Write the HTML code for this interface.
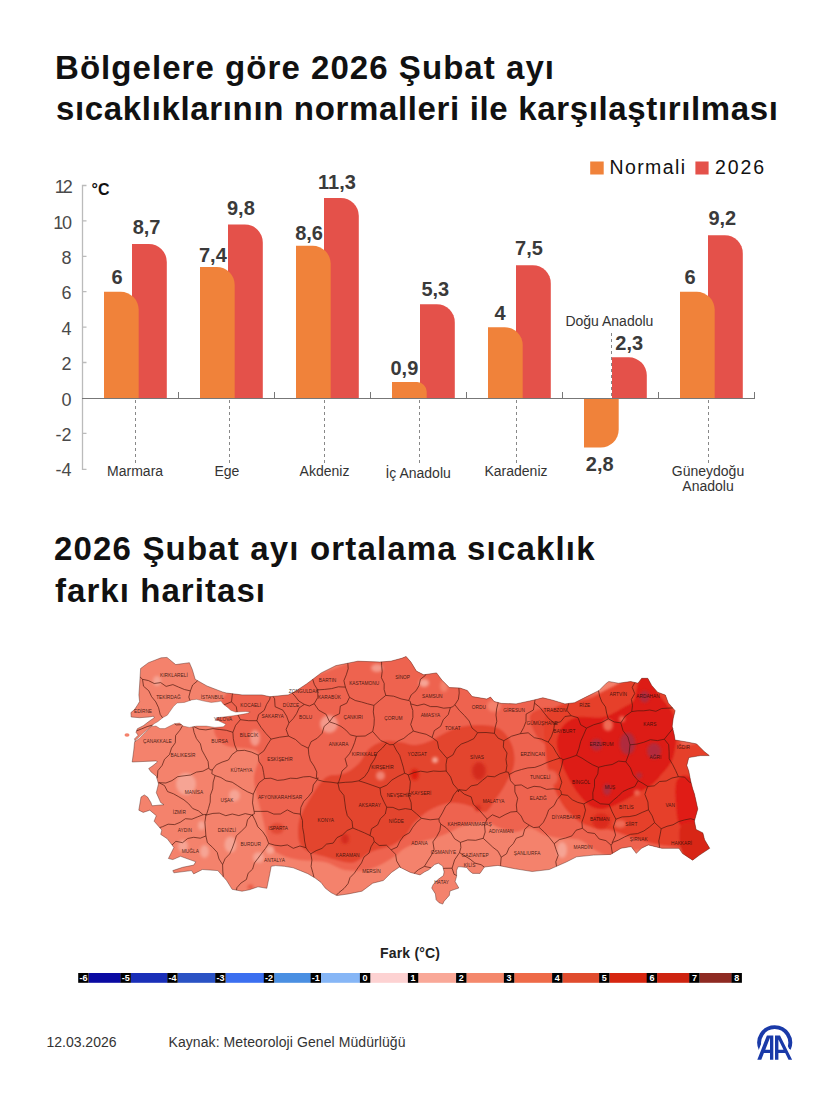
<!DOCTYPE html>
<html><head><meta charset="utf-8"><title>Bölgelere göre 2026 Şubat ayı sıcaklıkları</title>
<style>
html,body{margin:0;padding:0;background:#fff;}
body{width:820px;height:1094px;overflow:hidden;position:relative;font-family:"Liberation Sans",sans-serif;}
svg{position:absolute;left:0;top:0;display:block;}
svg text{font-family:"Liberation Sans",sans-serif;}
</style></head><body>
<svg width="820" height="1094" viewBox="0 0 820 1094">
<rect width="820" height="1094" fill="#fff"/>
<!-- Title 1 -->
<g font-weight="700" font-size="33" fill="#111">
<text x="55" y="79" textLength="499" lengthAdjust="spacing">Bölgelere göre 2026 Şubat ayı</text>
<text x="56" y="120" textLength="722" lengthAdjust="spacing">sıcaklıklarının normalleri ile karşılaştırılması</text>
</g>
<!-- Legend -->
<rect x="590.2" y="161.5" width="13.5" height="13" fill="#F0823A"/>
<text x="609.5" y="173.7" font-size="19.5" fill="#111" textLength="75.5" lengthAdjust="spacing">Normali</text>
<rect x="695.4" y="161.5" width="13.2" height="13" fill="#E4514A"/>
<text x="715" y="174.4" font-size="19.5" fill="#111" textLength="49" lengthAdjust="spacing">2026</text>
<!-- Axis -->
<g stroke="#bbb" stroke-width="1.3" fill="none">
<path d="M86.5,185.5H82.5V469.3H86.5"/>
<path d="M82.5,220.9h4M82.5,256.3h4M82.5,291.7h4M82.5,327.1h4M82.5,362.5h4M82.5,433.4h4"/>
</g>
<g font-size="18" fill="#4a4a4a" text-anchor="end"><text x="70.8" y="193.1" letter-spacing="-2">12</text><text x="70.8" y="228.5" letter-spacing="-1.2">10</text><text x="71.5" y="263.9">8</text><text x="71.5" y="299.3">6</text><text x="71.5" y="334.7">4</text><text x="71.5" y="370.1">2</text><text x="71.5" y="405.6">0</text><text x="71.5" y="441.0">-2</text><text x="71.5" y="476.4">-4</text></g>
<text x="91.5" y="195.2" font-size="16" font-weight="700" fill="#111">°C</text>
<!-- Bars -->
<path d="M132,398V244.0H148.8A18.0,18.0 0 0 1 166.8,262.0V398Z" fill="#E4514A"/>
<path d="M228,398V224.5H244.8A18.0,18.0 0 0 1 262.8,242.5V398Z" fill="#E4514A"/>
<path d="M324,398V198.0H340.8A18.0,18.0 0 0 1 358.8,216.0V398Z" fill="#E4514A"/>
<path d="M420,398V304.2H436.8A18.0,18.0 0 0 1 454.8,322.2V398Z" fill="#E4514A"/>
<path d="M516,398V265.2H532.8A18.0,18.0 0 0 1 550.8,283.2V398Z" fill="#E4514A"/>
<path d="M612,398V357.3H628.8A18.0,18.0 0 0 1 646.8,375.3V398Z" fill="#E4514A"/>
<path d="M708,398V235.2H724.8A18.0,18.0 0 0 1 742.8,253.2V398Z" fill="#E4514A"/>
<path d="M104,398V291.8H120.7A18.0,18.0 0 0 1 138.7,309.8V398Z" fill="#F0823A"/>
<path d="M200,398V267.0H216.7A18.0,18.0 0 0 1 234.7,285.0V398Z" fill="#F0823A"/>
<path d="M296,398V245.8H312.7A18.0,18.0 0 0 1 330.7,263.8V398Z" fill="#F0823A"/>
<path d="M392,398V382.1H417.1A9.6,9.6 0 0 1 426.7,391.6V398Z" fill="#F0823A"/>
<path d="M488,398V327.2H504.7A18.0,18.0 0 0 1 522.7,345.2V398Z" fill="#F0823A"/>
<path d="M584,398V447.6H600.7A18,18 0 0 0 618.7,429.6V398Z" fill="#F0823A"/>
<path d="M680,398V291.8H696.7A18.0,18.0 0 0 1 714.7,309.8V398Z" fill="#F0823A"/>
<!-- baseline & separators -->
<g stroke="#777" stroke-width="1" fill="none">
<path d="M82,398.5H755"/>
<path d="M178.5,392V398M274.5,392V398M370.5,392V398M466.5,392V398M562.5,392V398M658.5,392V398M754.5,392V398"/>
</g>
<!-- dashed category lines -->
<g stroke="#888" stroke-width="1" stroke-dasharray="3,3" fill="none">
<path d="M135.5,400V465M229.5,400V465M324.5,400V465M419.5,400V465M516.5,400V465M708.5,400V465M611.5,333V398"/>
</g>
<!-- value labels -->
<g font-size="20" font-weight="700" fill="#3a3a3a" text-anchor="middle">
<text x="117" y="284">6</text><text x="146.6" y="234">8,7</text>
<text x="212.9" y="262">7,4</text><text x="240.9" y="214.6">9,8</text>
<text x="309.1" y="239.6">8,6</text><text x="337" y="188.9">11,3</text>
<text x="404.4" y="375.2">0,9</text><text x="435.3" y="295.5">5,3</text>
<text x="500" y="319.7">4</text><text x="529" y="255">7,5</text>
<text x="599.7" y="470.7">2,8</text><text x="629.2" y="350.4">2,3</text>
<text x="690" y="283.8">6</text><text x="722.3" y="224.9">9,2</text>
</g>
<!-- category labels -->
<g font-size="14" fill="#333" text-anchor="middle">
<text x="135.1" y="475.8">Marmara</text>
<text x="226.9" y="475.8">Ege</text>
<text x="324.5" y="475.8">Akdeniz</text>
<text x="418.1" y="478.4">İç Anadolu</text>
<text x="516" y="475.6">Karadeniz</text>
<text x="609.4" y="326.3">Doğu Anadolu</text>
<text x="708" y="475.6">Güneydoğu</text>
<text x="708" y="490.7">Anadolu</text>
</g>
<!-- Title 2 -->
<g font-weight="700" font-size="33" fill="#111">
<text x="54" y="560.4" textLength="540.5" lengthAdjust="spacing">2026 Şubat ayı ortalama sıcaklık</text>
<text x="55" y="601.7" textLength="210" lengthAdjust="spacing">farkı haritası</text>
</g>
<!-- MAP -->
<g id="map"><defs><clipPath id="trclip"><path d="M140.6,668.5L148.4,662.7L161.1,657.8L167.0,657.4L175.7,664.6L189.4,662.7L192.3,669.5L195.2,679.3L207.0,686.0L222.6,692.0L226.5,693.0L242.0,694.9L261.6,694.9L270.0,696.7L288.3,694.9L295.6,691.2L306.6,683.9L321.2,672.9L335.9,665.6L357.8,661.2L379.8,662.0L390.7,661.2L401.7,658.3L406.1,656.5L410.9,662.0L416.4,671.1L423.7,674.8L436.5,672.9L442.0,680.2L449.3,687.6L460.0,688.0L467.3,690.5L472.2,696.6L486.8,699.0L490.5,697.1L494.1,701.5L501.5,703.4L516.1,703.9L533.2,700.2L542.9,697.8L552.7,700.2L564.9,703.9L574.6,702.7L586.8,696.6L599.0,690.5L606.3,683.2L608.8,681.5L618.5,683.2L630.7,681.5L638.0,683.2L641.7,678.3L647.8,678.3L651.7,685.4L657.6,692.2L665.4,695.1L668.3,702.9L675.1,710.7L673.2,718.5L672.2,726.3L674.1,734.1L675.1,740.0L686.8,742.0L696.6,743.9L704.4,751.7L709.3,755.6L700.5,755.6L688.8,757.6L686.8,765.4L688.8,771.2L690.7,781.0L692.7,788.8L694.4,793.7L697.8,809.0L694.4,821.0L696.1,829.5L702.9,832.9L704.6,839.7L709.7,848.3L699.5,855.1L692.6,860.2L682.4,853.4L679.0,848.3L661.9,848.3L648.3,844.9L641.4,848.3L636.3,853.4L631.2,846.6L621.0,848.3L610.7,854.4L593.6,855.1L576.6,856.8L566.3,862.0L549.3,869.5L532.2,871.5L515.1,868.8L498.0,865.4L484.4,867.0L480.0,873.4L472.7,873.4L469.7,871.2L466.8,867.6L461.0,866.8L458.0,866.8L456.6,870.5L456.6,876.3L455.1,881.5L458.8,888.0L454.4,889.5L450.0,891.0L449.3,895.4L444.1,901.2L442.7,904.1L439.0,902.7L436.1,899.7L435.4,893.9L431.7,888.0L433.2,884.4L438.3,879.3L443.4,875.6L444.1,871.9L442.7,866.1L438.3,863.2L434.6,864.6L428.8,869.8L424.4,872.0L420.0,874.9L410.3,872.4L399.5,867.0L391.5,872.4L383.4,880.5L372.7,883.2L362.0,891.2L348.5,893.9L337.0,895.6L331.2,892.7L325.4,888.3L321.0,882.4L315.1,878.0L307.8,873.7L300.5,870.7L293.2,867.8L284.4,866.3L275.6,865.6L271.2,866.3L269.8,873.7L268.3,881.0L266.8,888.3L258.0,886.8L249.3,889.8L242.0,891.2L232.1,889.3L226.6,880.5L217.8,870.6L202.4,869.5L193.7,873.9L191.5,870.6L173.9,872.8L172.8,870.6L182.7,867.3L193.7,865.1L195.8,861.8L180.5,856.3L172.8,859.6L168.4,858.5L173.9,847.5L167.3,838.8L160.7,834.4L161.8,830.0L154.1,821.2L156.3,815.7L149.8,810.2L143.2,812.4L138.8,810.2L141.0,797.1L144.3,794.9L147.6,797.1L150.9,802.6L152.0,805.8L164.0,804.7L160.7,802.6L156.3,792.7L158.5,783.9L156.3,776.2L150.9,771.8L148.7,768.5L152.0,766.3L157.4,762.0L156.3,760.9L132.2,762.0L133.8,750.0L134.5,742.5L135.3,741.0L134.5,738.9L138.2,735.2L136.0,732.3L137.4,728.7L143.3,725.7L149.1,721.3L154.3,717.7L153.5,716.2L149.1,717.0L139.6,717.7L131.2,717.0L130.9,712.6L134.5,709.6L137.4,705.2L139.6,701.6L138.9,695.0L139.6,685.0Z"/></clipPath>
<filter id="bl" x="-20%" y="-20%" width="140%" height="140%"><feGaussianBlur stdDeviation="1.2"/></filter>
<filter id="bl2" x="-50%" y="-50%" width="200%" height="200%"><feGaussianBlur stdDeviation="1.5"/></filter></defs>
<g clip-path="url(#trclip)">
<rect x="120" y="640" width="600" height="280" fill="#F4826C"/>
<g filter="url(#bl)">
<path d="M232.0,690.0C246.3,682.5 272.0,686.7 300.0,680.0C328.0,673.3 373.3,650.0 400.0,650.0C426.7,650.0 433.3,672.5 460.0,680.0C486.7,687.5 521.7,693.3 560.0,695.0C598.3,696.7 664.7,679.2 690.0,690.0C715.3,700.8 708.3,731.3 712.0,760.0C715.7,788.7 715.7,846.7 712.0,862.0C708.3,877.3 698.7,854.0 690.0,852.0C681.3,850.0 668.3,850.3 660.0,850.0C651.7,849.7 645.8,849.7 640.0,850.0C634.2,850.3 630.0,851.0 625.0,852.0C620.0,853.0 615.0,856.3 610.0,856.0C605.0,855.7 600.0,852.7 595.0,850.0C590.0,847.3 585.8,842.0 580.0,840.0C574.2,838.0 565.8,838.8 560.0,838.0C554.2,837.2 550.0,836.7 545.0,835.0C540.0,833.3 535.0,828.5 530.0,828.0C525.0,827.5 520.0,832.0 515.0,832.0C510.0,832.0 505.0,829.7 500.0,828.0C495.0,826.3 490.8,822.5 485.0,822.0C479.2,821.5 470.8,823.3 465.0,825.0C459.2,826.7 455.0,829.8 450.0,832.0C445.0,834.2 440.0,836.3 435.0,838.0C430.0,839.7 425.0,840.3 420.0,842.0C415.0,843.7 409.2,845.7 405.0,848.0C400.8,850.3 399.2,853.2 395.0,856.0C390.8,858.8 385.0,862.7 380.0,865.0C375.0,867.3 370.8,869.2 365.0,870.0C359.2,870.8 351.7,871.3 345.0,870.0C338.3,868.7 332.5,863.7 325.0,862.0C317.5,860.3 307.2,861.2 300.0,860.0C292.8,858.8 287.0,857.5 282.0,855.0C277.0,852.5 273.3,851.7 270.0,845.0C266.7,838.3 264.7,825.8 262.0,815.0C259.3,804.2 254.7,790.5 254.0,780.0C253.3,769.5 262.8,757.8 258.0,752.0C253.2,746.2 232.3,749.5 225.0,745.0C217.7,740.5 212.8,734.2 214.0,725.0C215.2,715.8 217.7,697.5 232.0,690.0Z" fill="#EE6450"/>
<path d="M324.4,778.5C329.9,773.6 335.8,775.9 340.0,774.6C344.2,773.3 346.5,772.8 349.8,770.7C353.1,768.6 356.6,765.8 360.0,762.0C363.4,758.2 365.8,751.5 370.0,748.0C374.2,744.5 380.0,742.0 385.0,741.0C390.0,740.0 395.0,741.3 400.0,742.0C405.0,742.7 410.0,745.2 415.0,745.0C420.0,744.8 425.0,743.0 430.0,741.0C435.0,739.0 440.0,735.3 445.0,733.0C450.0,730.7 454.2,728.3 460.0,727.0C465.8,725.7 473.3,724.7 480.0,725.0C486.7,725.3 494.7,725.7 500.0,729.0C505.3,732.3 509.7,739.0 512.0,745.0C514.3,751.0 515.2,758.3 514.0,765.0C512.8,771.7 508.2,779.2 505.0,785.0C501.8,790.8 498.3,795.5 495.0,800.0C491.7,804.5 489.2,811.0 485.0,812.0C480.8,813.0 475.8,807.5 470.0,806.0C464.2,804.5 456.7,802.3 450.0,803.0C443.3,803.7 435.8,806.8 430.0,810.0C424.2,813.2 418.3,818.8 415.0,822.0C411.7,825.2 411.8,826.5 410.0,829.0C408.2,831.5 407.3,834.4 404.4,837.0C401.5,839.6 396.6,842.9 392.7,844.9C388.8,846.9 384.9,847.5 381.0,848.8C377.1,850.1 373.9,850.4 369.3,852.7C364.8,855.0 358.9,861.1 353.7,862.4C348.5,863.7 342.9,861.5 338.0,860.5C333.1,859.5 329.6,858.2 324.4,856.6C319.2,855.0 311.0,853.3 306.8,850.7C302.6,848.1 300.3,845.9 299.0,841.0C297.7,836.1 297.7,827.7 299.0,821.5C300.3,815.3 302.6,811.1 306.8,803.9C311.0,796.7 318.9,783.4 324.4,778.5Z" fill="#E3442F"/>
<path d="M530.0,716.0C531.2,711.0 540.0,708.7 545.0,708.0C550.0,707.3 556.7,708.3 560.0,712.0C563.3,715.7 566.3,724.5 565.0,730.0C563.7,735.5 556.5,743.7 552.0,745.0C547.5,746.3 541.7,742.8 538.0,738.0C534.3,733.2 528.8,721.0 530.0,716.0Z" fill="#E64A36"/>
<path d="M545.0,718.0C547.5,711.3 552.5,708.3 560.0,705.0C567.5,701.7 581.7,700.8 590.0,698.0C598.3,695.2 601.7,691.7 610.0,688.0C618.3,684.3 630.8,675.7 640.0,676.0C649.2,676.3 658.7,682.7 665.0,690.0C671.3,697.3 675.2,710.8 678.0,720.0C680.8,729.2 676.3,739.7 682.0,745.0C687.7,750.3 707.0,732.5 712.0,752.0C717.0,771.5 715.7,844.8 712.0,862.0C708.3,879.2 695.3,857.3 690.0,855.0C684.7,852.7 685.0,849.7 680.0,848.0C675.0,846.3 666.7,846.3 660.0,845.0C653.3,843.7 645.8,841.7 640.0,840.0C634.2,838.3 630.0,836.7 625.0,835.0C620.0,833.3 615.0,831.2 610.0,830.0C605.0,828.8 600.0,829.3 595.0,828.0C590.0,826.7 585.0,825.3 580.0,822.0C575.0,818.7 569.2,813.3 565.0,808.0C560.8,802.7 557.8,796.3 555.0,790.0C552.2,783.7 549.7,777.5 548.0,770.0C546.3,762.5 545.5,753.7 545.0,745.0C544.5,736.3 542.5,724.7 545.0,718.0Z" fill="#E6402C"/>
<path d="M557.0,740.4C557.7,735.4 559.9,729.4 563.5,725.5C567.1,721.6 571.6,718.4 578.4,717.0C585.1,715.6 596.2,718.8 604.0,717.0C611.8,715.2 620.4,709.1 625.4,706.3C630.4,703.4 631.8,703.8 633.9,699.9C636.0,696.0 636.1,686.8 638.2,682.8C640.3,678.8 643.2,673.9 646.7,676.0C650.2,678.1 655.2,689.5 659.5,695.6C663.8,701.7 669.4,706.3 672.3,712.7C675.1,719.1 676.6,726.2 676.6,734.0C676.6,741.8 675.1,752.5 672.3,759.6C669.4,766.7 663.0,772.4 659.5,776.7C656.0,781.0 654.9,782.4 651.0,785.2C647.1,788.1 641.0,790.9 636.0,793.8C631.0,796.6 626.4,799.8 621.1,802.3C615.8,804.8 609.0,808.0 604.0,808.7C599.0,809.4 595.5,809.1 591.2,806.6C586.9,804.1 582.7,799.5 578.4,793.8C574.1,788.1 568.8,778.8 565.6,772.4C562.4,766.0 560.6,760.7 559.2,755.4C557.8,750.1 556.3,745.4 557.0,740.4Z" fill="#DD1C12"/>
<path d="M676.6,781.0C678.6,776.2 684.1,774.5 688.0,776.0C691.9,777.5 698.2,783.5 700.0,790.0C701.8,796.5 699.8,808.7 699.0,815.0C698.2,821.3 698.2,826.3 695.0,828.0C691.8,829.7 683.2,828.8 680.0,825.0C676.8,821.2 676.6,812.3 676.0,805.0C675.4,797.7 674.6,785.8 676.6,781.0Z" fill="#E01F12"/>
<path d="M681.0,826.0C684.2,822.0 694.8,822.3 700.0,826.0C705.2,829.7 712.0,842.3 712.0,848.0C712.0,853.7 703.7,857.7 700.0,860.0C696.3,862.3 693.2,863.7 690.0,862.0C686.8,860.3 682.5,856.0 681.0,850.0C679.5,844.0 677.8,830.0 681.0,826.0Z" fill="#D82818"/>
</g><g filter="url(#bl2)">
<ellipse cx="596.5" cy="744.7" rx="6" ry="6" fill="#B32A3C"/>
<ellipse cx="627.5" cy="743.6" rx="8" ry="11" fill="#B02A3C"/>
<ellipse cx="654" cy="751" rx="7" ry="8" fill="#B32A3C"/>
<ellipse cx="607" cy="789.5" rx="4" ry="6" fill="#B32A3C"/>
<ellipse cx="644.6" cy="696.7" rx="5" ry="6" fill="#B32A3C"/>
<ellipse cx="639" cy="775.6" rx="3" ry="3" fill="#B32A3C"/>
<ellipse cx="479" cy="771" rx="7" ry="9" fill="#D42A1E"/>
<ellipse cx="414.6" cy="774.5" rx="4" ry="5.5" fill="#DE1E10"/>
<ellipse cx="380.5" cy="775.7" rx="4.5" ry="4.5" fill="#F08272"/>
<ellipse cx="345" cy="839" rx="4" ry="5" fill="#D42A1E"/>
<ellipse cx="478" cy="808" rx="3" ry="3" fill="#D42A1E"/>
<ellipse cx="277" cy="828.5" rx="7" ry="5.5" fill="#E24A35"/>
<ellipse cx="186" cy="784" rx="10" ry="11" fill="#F6A494"/>
<ellipse cx="234.5" cy="795.5" rx="5.5" ry="6" fill="#F6A494"/>
<ellipse cx="201.5" cy="825.5" rx="3.5" ry="4.5" fill="#F6A494"/>
<ellipse cx="230.5" cy="844.5" rx="6" ry="8" fill="#F6A494"/>
<ellipse cx="204.5" cy="851.5" rx="4.5" ry="6.5" fill="#F6A494"/>
<ellipse cx="258.5" cy="857.5" rx="5.5" ry="5.5" fill="#F6A494"/>
<ellipse cx="250.5" cy="887" rx="3" ry="2.5" fill="#E85A45"/>
<ellipse cx="329" cy="724" rx="9" ry="9" fill="#F4998A"/>
<ellipse cx="377" cy="668" rx="6" ry="4" fill="#F4998A"/>
<ellipse cx="255" cy="738" rx="5" ry="8" fill="#F4998A"/>
<ellipse cx="562" cy="850" rx="5" ry="8" fill="#F6A494"/>
<ellipse cx="157" cy="681" rx="4" ry="5" fill="#F6A494"/>
<ellipse cx="183" cy="846" rx="5" ry="6" fill="#F6A494"/>
<ellipse cx="424" cy="683" rx="5" ry="4" fill="#F6A494"/>
<ellipse cx="608" cy="725" rx="5" ry="6" fill="#EE6A55"/>
<ellipse cx="622" cy="719" rx="3" ry="3" fill="#EE6A55"/>
<ellipse cx="637" cy="792.7" rx="3" ry="3" fill="#EE6A55"/>
<ellipse cx="620" cy="824" rx="6" ry="4" fill="#EE6A55"/>
<ellipse cx="601" cy="821" rx="9" ry="8" fill="#DC2C1C"/>
<ellipse cx="550" cy="778" rx="8" ry="8" fill="#EC6450"/>
<ellipse cx="270" cy="850" rx="4" ry="4" fill="#F6A494"/>
<ellipse cx="444" cy="686" rx="4" ry="6" fill="#F4826C"/>
<ellipse cx="494" cy="706" rx="7" ry="6" fill="#F4826C"/>
<ellipse cx="435" cy="760" rx="3" ry="3" fill="#F6A494"/>
</g></g>
<path d="M135.0,741.6L139.6,738.2L145.5,732.3L151.3,726.5L156.0,726.0L160.0,728.6L164.9,728.6L169.8,726.1L174.6,723.7L179.5,723.1L183.2,726.1L189.3,727.4L196.6,726.1L206.3,726.1L214.9,727.4L223.4,726.8L225.9,724.3L222.2,722.5L218.5,720.7L215.5,720.0L217.3,717.6L223.4,717.0L233.2,715.8L240.5,714.6L247.8,713.3L250.2,712.1L245.4,711.5L235.6,712.1L230.7,710.3L228.3,707.9L223.4,704.2L221.0,701.1L217.3,701.8L211.2,702.4L203.9,701.1L196.6,699.3L191.7,699.9L184.4,702.4L177.1,703.0L173.4,706.6L167.3,715.2L163.0,717.5L158.0,721.5L154.5,723.5L150.0,727.2L144.0,732.6L138.5,737.6L134.8,740.8Z" fill="#fff"/>
<ellipse cx="127" cy="735" rx="2.5" ry="1.8" fill="#F4826C"/>
<path d="M136.6,730.9L141.6,728.9L147.1,726.6L152.5,725.1M156.9,778.1L157.3,777.8L157.9,770.6L162.1,765.4L164.5,759.3L169.5,754.5L171.5,748.1L175.3,742.8L175.6,735.5L179.8,730.3L182.6,725.6M174.7,723.7L176.2,724.9L181.5,724.7M140.1,677.0L142.5,679.3M142.5,679.3L143.5,686.2L148.8,690.8L151.6,696.7L155.8,701.9L158.6,707.8L160.2,714.4L162.6,717.9M159.7,827.6L162.5,826.7L168.1,824.2L174.6,824.6L180.2,822.3L185.4,818.7L191.9,819.2L197.5,816.9L203.1,814.7M158.2,782.9L159.1,782.7M159.1,782.7L164.5,785.6L167.6,791.6L173.5,793.8L178.8,796.8L184.0,799.9L188.7,803.8L192.7,808.5L198.5,810.9L203.1,814.7M172.0,845.0L175.9,841.3L182.5,842.7L187.7,838.5L193.7,837.3L200.3,838.2L206.0,835.9M205.9,835.9L205.4,829.0L204.9,822.2L205.9,815.4M203.1,814.7L204.7,814.5L205.9,815.4M634.9,682.5L632.2,687.3L634.7,693.6L631.4,699.4L632.5,705.6L631.7,711.6M672.7,707.9L667.7,708.2L661.7,708.5L655.9,711.3L649.7,710.0L643.7,710.8L637.7,710.8L631.7,711.6M672.8,728.6L672.3,729.3L668.3,734.2L664.3,739.2M620.8,722.9L623.0,730.6L627.9,737.1L630.0,744.8M631.7,711.6L625.2,716.2L620.8,722.9M630.0,744.8L636.9,744.1L643.7,742.3L650.3,739.7L657.5,740.6L664.3,739.2M691.0,782.2L689.7,782.4L684.6,777.1L678.4,776.7M678.4,776.7L675.7,770.6L672.7,764.6L669.2,758.8L669.1,751.7L668.7,744.7L664.3,739.2M400.5,867.5L399.7,866.2L396.6,860.9L395.6,854.3L391.1,849.8M336.3,895.3L338.9,892.6L344.0,888.5L348.0,883.7L350.0,877.6L354.4,873.1L357.9,867.9L361.5,862.9L364.0,857.0L369.1,853.0L371.0,846.8L374.2,841.5M391.1,849.8L386.4,845.2L379.2,845.5L374.2,841.5M206.4,815.0L205.3,814.3L205.9,815.4M206.4,815.0L212.9,813.4L219.3,813.1L225.8,815.7L232.3,814.0L238.8,815.6L245.2,813.6L251.7,815.0M205.9,835.9L207.4,842.7L212.6,847.4L217.2,852.4L219.0,859.0L222.6,864.6M251.7,815.0L247.5,819.9L246.1,826.5L241.4,831.2L236.4,835.7L234.5,842.0L232.3,848.1L229.7,853.9L225.1,858.7L222.6,864.6M223.3,876.8L222.8,871.1L222.6,864.6M498.0,702.5L498.1,703.1L496.6,709.0L496.0,715.1L496.8,721.3L495.2,727.3L494.4,733.3M477.6,732.7L472.0,728.0L469.2,721.0L464.5,715.6L459.4,710.5L454.9,704.8M494.4,733.3L486.0,732.5L477.6,732.7M458.9,688.0L459.2,693.1L458.4,699.3L454.9,704.8M477.6,732.7L473.9,738.6L467.8,741.6L461.2,744.1L456.2,748.5L452.9,755.0L447.0,758.3M432.1,737.5L437.4,741.5L438.7,748.5L442.7,753.4L447.0,758.3M432.1,737.5L434.3,730.6L440.6,726.3L443.3,719.7L448.3,714.5L450.4,707.6M450.4,707.6L452.9,706.6L454.9,704.8M432.1,737.5L426.2,734.3L419.8,732.8L413.4,731.1M450.4,707.6L443.7,708.2L437.1,706.6L430.5,706.6L424.0,704.0L417.1,705.7L410.6,703.8M413.4,731.1L410.7,724.5L412.9,717.4L412.8,710.5L410.6,703.8M425.8,674.5L425.4,675.4L420.4,679.3L419.0,685.6L416.0,690.8L411.2,694.9L408.7,700.5M408.7,700.5L410.5,701.7L410.6,703.8M661.2,828.7L660.1,834.8L658.8,840.9L659.5,847.1L659.4,847.7M694.7,819.9L690.7,818.7L684.6,819.9L678.6,821.6L673.0,824.8L667.0,826.3L661.2,828.7M678.4,776.7L672.0,778.0L666.2,781.0L659.6,781.5L654.2,785.9L647.6,786.4M630.0,744.8L629.0,753.5L625.9,761.8M647.6,786.4L643.0,783.4L638.1,780.7M625.9,761.8L630.4,767.8L633.2,774.9L638.1,780.7M413.4,731.1L408.4,734.5L403.8,738.4L398.2,740.9L393.4,744.5M393.4,744.5L396.2,750.0L399.7,755.3L401.5,761.2L403.3,767.2L404.6,773.3M446.2,771.0L446.0,764.6L447.0,758.3M446.2,771.0L439.9,771.4L433.4,771.0L427.1,772.2L420.7,771.2L414.4,772.5L408.2,774.9M404.6,773.3L406.5,773.9L408.2,774.9M159.1,782.7L165.9,783.0L172.0,780.6L177.6,776.7L184.1,775.8L190.6,775.0L196.5,772.1L202.9,771.2L208.8,768.1M206.4,815.0L208.4,808.6L210.2,802.1L210.4,795.2L212.7,788.9L213.2,782.1L215.1,775.6M208.8,768.1L210.1,769.8L212.3,769.9M215.1,775.6L211.8,773.7L212.3,769.9M208.8,768.1L208.1,761.5L205.0,755.8L201.9,750.1L200.4,743.8L196.4,738.5L194.1,732.5L192.9,726.8M142.5,679.3L148.5,680.6L154.2,683.5L160.7,682.6L166.1,686.4L172.9,684.6L178.6,687.1L184.4,689.5L190.4,690.9M190.4,690.9L188.8,697.1L190.0,700.5M554.6,723.2L553.7,729.9L551.5,736.2L548.2,742.1M534.5,703.1L540.1,707.6L544.4,713.3L548.9,718.8L554.6,723.2M534.5,703.1L533.4,710.0L526.1,714.1L526.0,721.5L523.6,727.7L520.3,733.7M548.2,742.1L541.5,739.1L534.3,737.7L528.2,732.8L520.3,733.7M494.4,733.3L498.2,738.2L503.8,740.7M535.0,699.8L534.5,703.1M503.8,740.7L511.6,736.2L520.3,733.7M568.6,703.4L568.6,703.8L566.8,710.2L571.1,715.7M598.5,690.7L599.6,696.1L601.8,701.8L605.5,706.9L606.6,713.0L608.3,718.8M571.1,715.7L578.0,717.7L580.7,724.8L586.5,728.1M608.3,718.8L601.3,722.6L593.6,724.8L586.5,728.1M554.6,723.2L560.6,721.8L564.9,716.5L571.1,715.7M620.8,722.9L614.2,721.9L608.3,718.8M563.0,759.8L561.6,758.5L559.8,758.1M563.0,759.8L569.8,757.7L576.5,755.3M559.8,758.1L556.2,752.5L553.0,746.8L548.2,742.1M576.5,755.3L578.9,748.5L580.7,741.4L583.6,734.8L586.5,728.1M625.9,761.8L618.6,761.1L612.2,764.5L605.2,765.6L598.5,767.3M576.5,755.3L582.1,758.2L587.3,761.6L592.7,764.8L598.5,767.3M559.8,758.1L553.4,760.2L547.2,762.4L541.1,765.2L534.8,767.4L527.9,767.9L521.5,769.5L515.1,771.4L509.1,774.5M559.5,789.4L553.1,788.8L546.6,789.4L540.4,786.9L534.0,786.3L527.4,788.5L521.3,784.9L514.8,785.4M563.0,759.8L561.4,767.1L559.1,774.4L561.8,782.2L559.5,789.4M514.8,785.4L510.5,780.7L509.1,774.5M503.8,740.7L503.3,747.0L507.0,753.0L506.0,759.4L506.9,765.6L505.9,771.9M505.9,771.9L508.3,772.2L509.1,774.5M638.1,780.7L634.8,786.6L628.6,788.9L622.8,791.6L618.4,796.1L613.6,800.0L609.1,804.4M598.5,767.3L597.8,773.8L594.5,779.8L594.5,786.4L592.8,792.7L593.0,799.3M609.1,804.4L600.4,803.8L593.0,799.3M411.5,809.6L405.3,808.6L398.9,809.9L392.9,807.4L386.7,807.2M411.5,809.6L411.1,802.6L408.7,795.8L409.8,788.7L410.4,781.7L408.2,774.9M404.6,773.3L398.1,776.4L391.9,780.0L386.7,785.2L380.0,788.0M386.7,807.2L383.6,801.1L380.8,794.8L380.0,788.0M421.4,818.3L416.5,813.8L411.5,809.6M374.2,841.5L373.4,837.6L370.0,835.5M421.4,818.3L416.6,822.4L412.7,827.3L409.4,832.8L403.7,835.9L400.0,841.1L397.2,847.1L391.1,849.8M386.7,807.2L385.3,814.0L380.4,818.7L377.7,824.8L371.5,828.8L370.0,835.5M314.0,877.3L312.8,872.7L311.1,866.5L311.9,860.1L310.8,853.8M310.8,853.8L316.1,850.7L322.0,848.4L326.5,844.1L333.2,843.1L337.0,837.6L342.6,834.9L347.1,830.5L352.8,828.0M370.0,835.5L364.3,832.8L358.6,830.4L352.8,828.0M252.3,814.7L255.3,820.6L257.8,826.8L262.7,831.6L266.3,837.1L268.7,843.4M252.3,814.7L254.5,813.7L254.1,811.4M254.1,811.4L260.7,811.4L267.3,811.3L273.8,814.1L280.4,814.0L287.3,809.9L293.7,813.2L300.3,814.1M268.7,843.4L274.8,845.2L281.0,845.9L287.4,844.9L293.3,848.3L299.9,846.0L306.0,847.7M306.0,847.7L304.6,841.0L303.9,834.2L302.6,827.5L302.5,820.6L300.3,814.1M251.7,815.0L252.6,816.0L252.3,814.7M236.5,890.1L236.9,887.7L240.9,883.1L246.4,879.5L248.1,873.3L252.6,869.1L254.4,863.0L258.1,858.2L261.7,853.3L265.4,848.5L268.7,843.4M253.3,794.2L247.7,791.9L242.4,788.9L237.3,785.5L232.2,782.2L226.1,780.8L220.9,777.5L215.1,775.6M253.3,794.2L252.5,802.9L254.1,811.4M253.3,794.2L255.9,788.3L259.1,782.7L264.5,778.6M316.3,778.6L309.8,776.5L303.3,776.9L296.8,778.5L290.4,778.2L283.9,779.8L277.4,780.4L270.9,778.2L264.5,778.6M316.3,778.6L318.2,777.9L317.2,779.7M317.2,779.7L313.3,784.9L312.3,791.5L308.4,796.7L303.7,801.5L300.9,807.3L300.3,814.1M310.8,853.8L308.2,851.0L306.0,847.7M352.8,828.0L352.0,821.1L347.3,815.6L345.7,809.0L344.8,802.2L343.9,795.4L339.4,789.8L337.9,783.2M317.2,779.7L324.0,781.6L331.0,782.2L337.9,783.2M212.3,769.9L216.3,764.8L222.1,762.1L228.4,760.0L232.1,754.5L237.1,750.8M264.5,778.6L263.6,772.6L262.4,766.6L258.9,761.3L258.2,755.1M258.2,755.1L251.5,752.1L244.5,750.3L237.1,750.8M193.8,726.6L199.2,729.2L205.9,729.9L213.0,728.6L219.7,729.5L226.4,730.3L232.9,732.3M237.1,750.8L234.6,744.8L233.3,738.7L232.9,732.3M224.1,704.7L225.4,704.3L231.5,701.8M232.9,732.3L235.6,725.3L240.4,719.7M231.5,701.8L236.3,706.8L237.1,712.0M238.0,715.0L240.4,719.7M385.8,695.4L379.8,700.3L373.9,705.4M373.9,705.4L367.6,703.8L361.5,702.0L355.2,700.5L349.5,697.3M349.5,697.3L347.3,692.2L345.4,687.1M385.8,695.4L384.1,689.5L384.2,683.4L381.4,677.7L382.2,671.4L381.6,665.3L381.6,661.9M345.4,687.1L343.9,680.7L346.3,674.8L348.2,668.7L347.8,663.2M408.7,700.5L401.1,698.9L393.7,696.2L385.8,695.4M612.3,842.5L615.6,835.1L613.4,826.8L615.9,819.2M612.3,842.5L618.6,840.1L624.4,837.0L630.5,834.3L637.6,833.6L643.8,831.0L649.3,827.1L654.6,822.6M615.9,819.2L622.2,816.9L629.2,816.6L635.9,815.3L642.2,812.4L648.5,809.8M654.6,822.6L652.2,815.9L648.5,809.8M611.0,845.1L612.2,844.1L612.3,842.5M612.4,853.4L612.0,851.1L611.0,845.1M661.2,828.7L657.9,825.7L654.6,822.6M609.1,804.4L612.2,811.9L615.9,819.2M647.6,786.4L644.9,794.3L647.9,802.0L648.5,809.8M561.4,794.5L557.1,799.6L554.1,805.5L548.7,809.8L546.4,816.3L543.4,822.3L538.8,827.1M561.4,794.5L567.6,795.4L572.3,799.8L577.8,802.4L583.8,803.9M583.8,803.9L585.5,810.1L584.0,816.1L581.9,822.1L582.4,828.3M582.4,828.3L576.1,830.2L571.9,835.9L565.7,838.0L559.3,839.6L554.2,843.7M538.8,827.1L544.4,832.2L549.5,837.8L554.2,843.7M559.5,789.4L561.1,791.7L561.4,794.5M529.2,825.2L523.8,821.7L521.1,816.0L517.0,811.5M514.8,785.4L514.9,791.9L517.7,798.3L516.3,805.0L517.0,811.5M529.2,825.2L533.7,827.6L538.8,827.1M593.0,799.3L588.3,801.4L583.8,803.9M611.0,845.1L605.9,840.6L599.2,839.0L594.7,833.5L587.6,832.5L582.4,828.3M556.5,866.3L555.8,861.8L558.2,855.4L556.1,849.6L554.2,843.7M358.8,780.8L352.0,782.0L345.2,782.3L338.4,783.0M358.8,780.8L364.6,776.7L368.4,771.2L370.9,764.7L374.6,759.1L377.2,752.7L382.3,748.1L386.7,743.0M338.4,783.0L340.4,777.0L342.0,771.0L347.2,766.3L345.1,758.8L349.5,753.7L352.4,748.2L354.7,742.3L356.4,736.3M356.4,736.3L365.2,736.0L372.7,731.5M386.7,743.0L380.8,740.6L376.7,736.1L372.7,731.5M380.0,788.0L372.9,785.5L365.9,783.0L358.8,780.8M337.9,783.2L337.9,782.6L338.4,783.0M393.4,744.5L389.8,744.8L386.7,743.0M329.5,721.9L324.2,726.3L322.1,733.3L317.3,738.2L311.1,741.7L308.3,748.2M316.3,778.6L316.8,772.0L314.1,766.2L310.4,760.6L308.8,754.5L308.3,748.2M329.5,721.9L335.4,723.8L341.0,726.4L345.9,730.1L350.3,734.9L356.4,736.3M373.9,705.4L373.3,711.9L374.3,718.5L374.0,725.0L372.7,731.5M349.5,697.3L346.7,703.2L340.3,706.1L339.5,713.7L333.2,716.7L329.5,721.8M270.2,696.7L269.8,699.2L266.5,704.6L264.2,710.4L258.6,714.6L256.9,720.7M273.1,696.4L274.6,698.8L275.1,706.7L282.9,710.2L286.6,716.1L289.0,722.9M256.9,720.7L261.0,727.3L265.8,733.4L271.1,739.1M271.1,739.1L279.7,737.2L288.5,736.1M288.5,736.1L286.1,729.4L289.0,722.9M258.2,755.1L263.9,750.9L267.3,744.9L271.1,739.1M240.4,719.7L248.6,720.7L256.9,720.7M308.3,748.2L301.3,744.8L295.5,739.5L288.5,736.1M317.7,689.9L314.4,684.6L312.7,679.3M317.7,689.9L317.9,697.3L314.2,703.7M304.3,704.4L309.4,706.0L314.2,703.7M304.3,704.4L298.8,701.0L294.8,695.9L292.1,693.0M345.4,687.1L338.4,686.8L331.6,688.6L324.7,689.4L317.7,689.9M329.5,721.8L326.1,714.3L318.7,710.2L314.2,703.7M289.0,722.9L293.2,718.6L296.6,713.6L299.1,707.9L304.3,704.4M231.5,701.8L232.2,695.7L232.5,693.7M190.4,690.9L192.6,685.0L197.6,680.8L197.7,680.7M456.6,875.5L454.1,874.3L452.1,868.2M484.3,867.1L481.1,864.7L474.9,863.1L470.0,859.1L464.7,855.9L459.5,852.6M452.1,868.2L454.6,859.9L459.5,852.6M529.2,825.2L524.7,829.3L522.9,835.9L516.3,838.2L513.3,843.6L509.0,847.9L506.5,853.8L501.2,857.2M501.2,857.2L500.6,864.3L500.7,865.9M424.4,866.4L418.4,869.7L414.1,873.4M424.4,866.4L431.0,867.8M443.3,868.5L445.1,868.3L452.1,868.2M487.1,819.0L484.5,825.2L485.2,832.0L483.2,838.3M487.1,819.0L482.6,813.9L478.2,808.8L473.3,804.2L471.2,796.9L464.3,794.2L459.1,789.7M483.2,838.3L475.7,840.3L467.8,839.9L460.4,842.4M460.4,842.4L454.6,838.8L451.0,832.8L446.4,827.9L440.8,824.1M440.8,824.1L439.3,821.7L438.9,818.9M438.9,818.9L442.4,812.9L445.6,806.6L450.6,801.5L453.6,795.0L458.0,789.6M458.0,789.6L458.3,792.0L459.1,789.7M517.0,811.5L510.8,812.0L505.1,814.6L499.5,817.7L492.4,814.8L487.1,819.0M501.2,857.2L498.0,851.2L492.8,847.2L488.0,842.7L483.2,838.3M505.9,771.9L499.9,773.8L494.4,776.8L487.5,776.2L482.4,780.4L477.3,784.7L471.1,785.9L466.1,790.5L459.1,789.7M459.5,852.6L460.9,847.6L460.4,842.4M424.4,866.4L427.8,860.8L431.4,855.2L434.1,849.3L432.9,841.9L436.8,836.4L439.8,830.7L440.8,824.1M421.4,818.3L430.1,819.8L438.9,818.9M446.2,771.0L450.6,776.9L453.1,784.0L458.0,789.6" fill="none" stroke="#4a160c" stroke-opacity=".85" stroke-width=".8"/>
<path d="M140.6,668.5L148.4,662.7L161.1,657.8L167.0,657.4L175.7,664.6L189.4,662.7L192.3,669.5L195.2,679.3L207.0,686.0L222.6,692.0L226.5,693.0L242.0,694.9L261.6,694.9L270.0,696.7L288.3,694.9L295.6,691.2L306.6,683.9L321.2,672.9L335.9,665.6L357.8,661.2L379.8,662.0L390.7,661.2L401.7,658.3L406.1,656.5L410.9,662.0L416.4,671.1L423.7,674.8L436.5,672.9L442.0,680.2L449.3,687.6L460.0,688.0L467.3,690.5L472.2,696.6L486.8,699.0L490.5,697.1L494.1,701.5L501.5,703.4L516.1,703.9L533.2,700.2L542.9,697.8L552.7,700.2L564.9,703.9L574.6,702.7L586.8,696.6L599.0,690.5L606.3,683.2L608.8,681.5L618.5,683.2L630.7,681.5L638.0,683.2L641.7,678.3L647.8,678.3L651.7,685.4L657.6,692.2L665.4,695.1L668.3,702.9L675.1,710.7L673.2,718.5L672.2,726.3L674.1,734.1L675.1,740.0L686.8,742.0L696.6,743.9L704.4,751.7L709.3,755.6L700.5,755.6L688.8,757.6L686.8,765.4L688.8,771.2L690.7,781.0L692.7,788.8L694.4,793.7L697.8,809.0L694.4,821.0L696.1,829.5L702.9,832.9L704.6,839.7L709.7,848.3L699.5,855.1L692.6,860.2L682.4,853.4L679.0,848.3L661.9,848.3L648.3,844.9L641.4,848.3L636.3,853.4L631.2,846.6L621.0,848.3L610.7,854.4L593.6,855.1L576.6,856.8L566.3,862.0L549.3,869.5L532.2,871.5L515.1,868.8L498.0,865.4L484.4,867.0L480.0,873.4L472.7,873.4L469.7,871.2L466.8,867.6L461.0,866.8L458.0,866.8L456.6,870.5L456.6,876.3L455.1,881.5L458.8,888.0L454.4,889.5L450.0,891.0L449.3,895.4L444.1,901.2L442.7,904.1L439.0,902.7L436.1,899.7L435.4,893.9L431.7,888.0L433.2,884.4L438.3,879.3L443.4,875.6L444.1,871.9L442.7,866.1L438.3,863.2L434.6,864.6L428.8,869.8L424.4,872.0L420.0,874.9L410.3,872.4L399.5,867.0L391.5,872.4L383.4,880.5L372.7,883.2L362.0,891.2L348.5,893.9L337.0,895.6L331.2,892.7L325.4,888.3L321.0,882.4L315.1,878.0L307.8,873.7L300.5,870.7L293.2,867.8L284.4,866.3L275.6,865.6L271.2,866.3L269.8,873.7L268.3,881.0L266.8,888.3L258.0,886.8L249.3,889.8L242.0,891.2L232.1,889.3L226.6,880.5L217.8,870.6L202.4,869.5L193.7,873.9L191.5,870.6L173.9,872.8L172.8,870.6L182.7,867.3L193.7,865.1L195.8,861.8L180.5,856.3L172.8,859.6L168.4,858.5L173.9,847.5L167.3,838.8L160.7,834.4L161.8,830.0L154.1,821.2L156.3,815.7L149.8,810.2L143.2,812.4L138.8,810.2L141.0,797.1L144.3,794.9L147.6,797.1L150.9,802.6L152.0,805.8L164.0,804.7L160.7,802.6L156.3,792.7L158.5,783.9L156.3,776.2L150.9,771.8L148.7,768.5L152.0,766.3L157.4,762.0L156.3,760.9L132.2,762.0L133.8,750.0L134.5,742.5L135.3,741.0L134.5,738.9L138.2,735.2L136.0,732.3L137.4,728.7L143.3,725.7L149.1,721.3L154.3,717.7L153.5,716.2L149.1,717.0L139.6,717.7L131.2,717.0L130.9,712.6L134.5,709.6L137.4,705.2L139.6,701.6L138.9,695.0L139.6,685.0Z" fill="none" stroke="#4a2018" stroke-opacity=".7" stroke-width=".6"/>
<path d="M135.0,741.6L139.6,738.2L145.5,732.3L151.3,726.5L156.0,726.0L160.0,728.6L164.9,728.6L169.8,726.1L174.6,723.7L179.5,723.1L183.2,726.1L189.3,727.4L196.6,726.1L206.3,726.1L214.9,727.4L223.4,726.8L225.9,724.3L222.2,722.5L218.5,720.7L215.5,720.0L217.3,717.6L223.4,717.0L233.2,715.8L240.5,714.6L247.8,713.3L250.2,712.1L245.4,711.5L235.6,712.1L230.7,710.3L228.3,707.9L223.4,704.2L221.0,701.1L217.3,701.8L211.2,702.4L203.9,701.1L196.6,699.3L191.7,699.9L184.4,702.4L177.1,703.0L173.4,706.6L167.3,715.2L163.0,717.5L158.0,721.5L154.5,723.5L150.0,727.2L144.0,732.6L138.5,737.6L134.8,740.8Z" fill="none" stroke="#4a2018" stroke-opacity=".6" stroke-width=".5"/>
<g font-size="4.8" fill="#2a0c06" fill-opacity=".85" text-anchor="middle" font-family="Liberation Sans"><text x="173.9" y="676.5">KIRKLARELİ</text><text x="143.0" y="712.6">EDİRNE</text><text x="168.4" y="699.2">TEKİRDAĞ</text><text x="212.3" y="699.2">İSTANBUL</text><text x="250.7" y="707.2">KOCAELİ</text><text x="272.7" y="718.2">SAKARYA</text><text x="291.0" y="707.2">DÜZCE</text><text x="303.8" y="692.6">ZONGULDAK</text><text x="327.6" y="681.6">BARTIN</text><text x="329.4" y="699.2">KARABÜK</text><text x="364.2" y="685.3">KASTAMONU</text><text x="402.6" y="679.0">SİNOP</text><text x="305.6" y="719.3">BOLU</text><text x="353.2" y="718.6">ÇANKIRI</text><text x="393.4" y="720.4">ÇORUM</text><text x="219.6" y="743.1">BURSA</text><text x="223.0" y="721.1">YALOVA</text><text x="248.9" y="736.5">BİLECİK</text><text x="280.0" y="761.4">ESKİŞEHİR</text><text x="338.6" y="746.0">ANKARA</text><text x="364.2" y="755.9">KIRIKKALE</text><text x="382.5" y="769.4">KIRŞEHİR</text><text x="417.2" y="755.9">YOZGAT</text><text x="157.4" y="743.1">ÇANAKKALE</text><text x="183.0" y="757.0">BALIKESİR</text><text x="241.6" y="771.6">KÜTAHYA</text><text x="194.0" y="794.3">MANİSA</text><text x="227.0" y="801.6">UŞAK</text><text x="280.0" y="799.1">AFYONKARAHİSAR</text><text x="179.4" y="814.4">İZMİR</text><text x="184.9" y="831.6">AYDIN</text><text x="227.0" y="831.6">DENİZLİ</text><text x="190.4" y="852.8">MUĞLA</text><text x="250.7" y="845.5">BURDUR</text><text x="278.2" y="829.8">ISPARTA</text><text x="274.5" y="862.0">ANTALYA</text><text x="325.8" y="821.7">KONYA</text><text x="347.7" y="857.2">KARAMAN</text><text x="371.5" y="873.0">MERSİN</text><text x="369.7" y="807.1">AKSARAY</text><text x="398.9" y="796.9">NEVŞEHİR</text><text x="396.4" y="822.8">NİĞDE</text><text x="419.5" y="845.0">ADANA</text><text x="432.3" y="698.1">SAMSUN</text><text x="430.5" y="716.7">AMASYA</text><text x="452.8" y="730.4">TOKAT</text><text x="478.8" y="709.2">ORDU</text><text x="514.1" y="712.2">GİRESUN</text><text x="555.0" y="712.2">TRABZON</text><text x="584.8" y="707.4">RİZE</text><text x="618.3" y="695.5">ARTVİN</text><text x="648.0" y="698.1">ARDAHAN</text><text x="542.0" y="725.2">GÜMÜŞHANE</text><text x="564.3" y="732.7">BAYBURT</text><text x="649.9" y="726.0">KARS</text><text x="601.5" y="746.4">ERZURUM</text><text x="683.3" y="749.0">IĞDIR</text><text x="655.4" y="759.4">AĞRI</text><text x="532.7" y="755.7">ERZİNCAN</text><text x="477.0" y="759.4">SİVAS</text><text x="421.2" y="794.8">KAYSERİ</text><text x="540.2" y="778.8">TUNCELİ</text><text x="581.1" y="783.6">BİNGÖL</text><text x="610.0" y="788.5">MUŞ</text><text x="493.7" y="803.3">MALATYA</text><text x="538.3" y="799.6">ELAZIĞ</text><text x="626.4" y="808.6">BİTLİS</text><text x="670.3" y="807.0">VAN</text><text x="469.5" y="826.4">KAHRAMANMARAŞ</text><text x="501.1" y="832.7">ADIYAMAN</text><text x="566.2" y="818.9">DİYARBAKIR</text><text x="599.7" y="820.8">BATMAN</text><text x="631.3" y="825.6">SİİRT</text><text x="638.7" y="841.3">ŞIRNAK</text><text x="681.5" y="845.0">HAKKARİ</text><text x="582.9" y="849.4">MARDİN</text><text x="527.1" y="855.4">ŞANLIURFA</text><text x="475.1" y="857.3">GAZİANTEP</text><text x="443.5" y="854.3">OSMANİYE</text><text x="469.5" y="866.6">KİLİS</text><text x="441.6" y="884.0">HATAY</text></g></g><!--/map-->
<!-- Color legend -->
<text x="380" y="958.4" font-size="14" font-weight="700" fill="#222" textLength="60" lengthAdjust="spacing">Fark (°C)</text>
<g id="cbar"><g>
<rect x="88.6" y="973" width="32.2" height="9.8" fill="#0A0AA2"/>
<rect x="130.9" y="973" width="36.7" height="9.8" fill="#1A2FB8"/>
<rect x="177.7" y="973" width="37.8" height="9.8" fill="#2A52C4"/>
<rect x="225.6" y="973" width="38.5" height="9.8" fill="#3B6FF0"/>
<rect x="274.2" y="973" width="36.7" height="9.8" fill="#4A8FE2"/>
<rect x="321.0" y="973" width="39.2" height="9.8" fill="#86B6F6"/>
<rect x="370.3" y="973" width="37.9" height="9.8" fill="#FDD2D2"/>
<rect x="418.3" y="973" width="38.1" height="9.8" fill="#F9A898"/>
<rect x="466.5" y="973" width="37.7" height="9.8" fill="#F4886C"/>
<rect x="514.3" y="973" width="38.1" height="9.8" fill="#EE6A48"/>
<rect x="562.5" y="973" width="36.9" height="9.8" fill="#E04C2E"/>
<rect x="609.5" y="973" width="37.5" height="9.8" fill="#D62610"/>
<rect x="657.1" y="973" width="32.4" height="9.8" fill="#CE2410"/>
<rect x="699.6" y="973" width="32.2" height="9.8" fill="#8E2A22"/>
<rect x="78.2" y="973" width="10.4" height="9.8" fill="#000"/>
<rect x="120.5" y="973" width="10.4" height="9.8" fill="#000"/>
<rect x="167.3" y="973" width="10.4" height="9.8" fill="#000"/>
<rect x="215.2" y="973" width="10.4" height="9.8" fill="#000"/>
<rect x="263.8" y="973" width="10.4" height="9.8" fill="#000"/>
<rect x="310.6" y="973" width="10.4" height="9.8" fill="#000"/>
<rect x="359.9" y="973" width="10.4" height="9.8" fill="#000"/>
<rect x="407.9" y="973" width="10.4" height="9.8" fill="#000"/>
<rect x="456.1" y="973" width="10.4" height="9.8" fill="#000"/>
<rect x="503.9" y="973" width="10.4" height="9.8" fill="#000"/>
<rect x="552.1" y="973" width="10.4" height="9.8" fill="#000"/>
<rect x="599.1" y="973" width="10.4" height="9.8" fill="#000"/>
<rect x="646.7" y="973" width="10.4" height="9.8" fill="#000"/>
<rect x="689.2" y="973" width="10.4" height="9.8" fill="#000"/>
<rect x="731.5" y="973" width="10.4" height="9.8" fill="#000"/>
<g font-size="9" font-weight="700" fill="#fff" text-anchor="middle">
<text x="83.4" y="981.4">-6</text>
<text x="125.7" y="981.4">-5</text>
<text x="172.5" y="981.4">-4</text>
<text x="220.4" y="981.4">-3</text>
<text x="269.0" y="981.4">-2</text>
<text x="315.8" y="981.4">-1</text>
<text x="365.1" y="981.4">0</text>
<text x="413.1" y="981.4">1</text>
<text x="461.3" y="981.4">2</text>
<text x="509.1" y="981.4">3</text>
<text x="557.3" y="981.4">4</text>
<text x="604.3" y="981.4">5</text>
<text x="651.9" y="981.4">6</text>
<text x="694.4" y="981.4">7</text>
<text x="736.7" y="981.4">8</text>
</g></g></g><!--/cbar-->
<!-- Footer -->
<g font-size="14" fill="#333">
<text x="46.5" y="1046.5" textLength="70" lengthAdjust="spacing">12.03.2026</text>
<text x="168.5" y="1046.5" textLength="237" lengthAdjust="spacing">Kaynak: Meteoroloji Genel Müdürlüğü</text>
</g>
<!-- AA logo -->
<g id="aa"><g fill="#1A3AA8">
<path d="M760.6,1049.1A15.5,15.5 0 1 1 788.9,1048.9" fill="none" stroke="#1A3AA8" stroke-width="3.9"/>
<path d="M755.8,1061L766.1,1034.6M793.6,1061L780.8,1034.6" stroke="#fff" stroke-width="2.6" fill="none"/>
<path d="M757.3,1059.8L766.9,1035.4H773.3V1059.8H770V1053.1H763.9L761.3,1059.8ZM770,1037.7V1049.7H765.3Z" fill-rule="evenodd"/>
<path d="M775,1035.4H780L792.1,1059.8H788.5L785.2,1053.1H778.4V1059.8H775ZM778.4,1039.4L783.5,1049.7H778.4Z" fill-rule="evenodd"/>
</g></g><!--/aa-->
</svg>
</body></html>
